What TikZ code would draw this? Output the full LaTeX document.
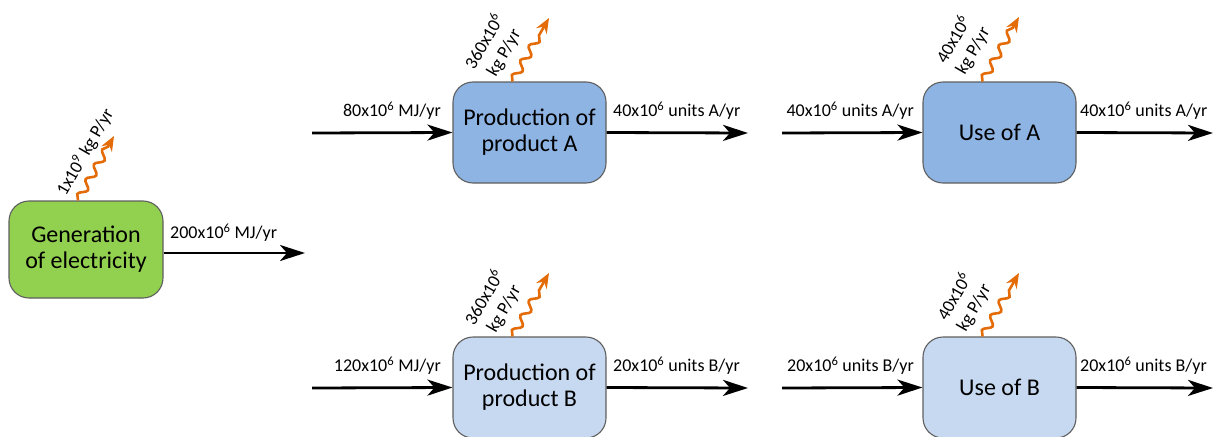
\documentclass[tikz,border=0pt]{standalone}
\usepackage{fontspec}
\setmainfont{Carlito}
\usetikzlibrary{arrows.meta,decorations.pathmorphing}
\definecolor{gengreen}{HTML}{92D050}
\definecolor{bluea}{HTML}{8EB4E3}
\definecolor{blueb}{HTML}{C6D9F1}
\definecolor{boxline}{HTML}{5F5F5F}
\definecolor{wave}{HTML}{E36C09}
\begin{document}
\begin{tikzpicture}[x=1pt,y=-1pt,
  procbox/.style={draw=boxline,line width=1.1pt,rounded corners=20pt,minimum width=153pt,minimum height=101pt,align=center,font=\fontsize{24}{26}\selectfont,inner sep=2pt},
  flow/.style={line width=2.8pt,-{Stealth[length=25pt,width=16pt,inset=7pt]}},
  emis/.style={wave,line width=2.6pt,-{Stealth[length=15pt,width=12pt,inset=5pt]},decorate,decoration={snake,amplitude=3.8pt,segment length=17pt,post length=12pt}},
  lbl/.style={font=\fontsize{18}{20}\selectfont,inner sep=1pt},
  elbl/.style={font=\fontsize{18}{22}\selectfont,align=center,rotate=60,inner sep=0pt}]
\useasboundingbox (0,0) rectangle (1214,436);
% boxes
\node[procbox,fill=gengreen,minimum width=154pt,minimum height=97pt] (gen) at (86,249.5) {Generation\\of electricity};
\node[procbox,fill=bluea] (pa) at (529.5,132.5) {Production of\\product A};
\node[procbox,fill=bluea] (ua) at (999.5,132.5) {Use of A};
\node[procbox,fill=blueb] (pb) at (529.5,387.5) {Production of\\product B};
\node[procbox,fill=blueb] (ub) at (999.5,387.5) {Use of B};
% free ends
\coordinate (genout) at (305,253);
\coordinate (pain) at (312,133);
\coordinate (paout) at (748,133);
\coordinate (uain) at (782,133);
\coordinate (uaout) at (1213,133);
\coordinate (pbin) at (312,388);
\coordinate (pbout) at (748,388);
\coordinate (ubin) at (782,388);
\coordinate (ubout) at (1213,388);
\coordinate (genem) at (114,136);
\coordinate (paem) at (549,18);
\coordinate (uaem) at (1019,17);
\coordinate (pbem) at (549,273);
\coordinate (ubem) at (1019,273);
% flows
\draw[flow] ([yshift=-3.5pt]gen.east) -- (genout);
\draw[flow] (pain) -- (pa.west);
\draw[flow] (pa.east) -- (paout);
\draw[flow] (uain) -- (ua.west);
\draw[flow] (ua.east) -- (uaout);
\draw[flow] (pbin) -- (pb.west);
\draw[flow] (pb.east) -- (pbout);
\draw[flow] (ubin) -- (ub.west);
\draw[flow] (ub.east) -- (ubout);
% emissions
\draw[emis] ([xshift=-8pt]gen.north) -- (genem);
\draw[emis] ([xshift=-17pt]pa.north) -- (paem);
\draw[emis] ([xshift=-17pt]ua.north) -- (uaem);
\draw[emis] ([xshift=-17pt]pb.north) -- (pbem);
\draw[emis] ([xshift=-17pt]ub.north) -- (ubem);
% flow labels
\node[lbl,anchor=south west] (l1) at (169,243) {200x10\textsuperscript{6} MJ/yr};
\node[lbl,anchor=south east] (l2) at (442,121) {80x10\textsuperscript{6} MJ/yr};
\node[lbl,anchor=south west] (l3) at (612,121) {40x10\textsuperscript{6} units A/yr};
\node[lbl,anchor=south east] (l4) at (915,121) {40x10\textsuperscript{6} units A/yr};
\node[lbl,anchor=south west] (l5) at (1079,121) {40x10\textsuperscript{6} units A/yr};
\node[lbl,anchor=south east] (l6) at (442,376) {120x10\textsuperscript{6} MJ/yr};
\node[lbl,anchor=south west] (l7) at (612,376) {20x10\textsuperscript{6} units B/yr};
\node[lbl,anchor=south east] (l8) at (915,376) {20x10\textsuperscript{6} units B/yr};
\node[lbl,anchor=south west] (l9) at (1079,376) {20x10\textsuperscript{6} units B/yr};
% emission labels
\node[elbl] (e1) at (85,152) {1x10\textsuperscript{9} kg P/yr};
\node[elbl] (e2) at (494,47) {360x10\textsuperscript{6}\\kg P/yr};
\node[elbl] (e3) at (963,45) {40x10\textsuperscript{6}\\kg P/yr};
\node[elbl] (e4) at (494,303) {360x10\textsuperscript{6}\\kg P/yr};
\node[elbl] (e5) at (964,302) {40x10\textsuperscript{6}\\kg P/yr};
\end{tikzpicture}
\end{document}
